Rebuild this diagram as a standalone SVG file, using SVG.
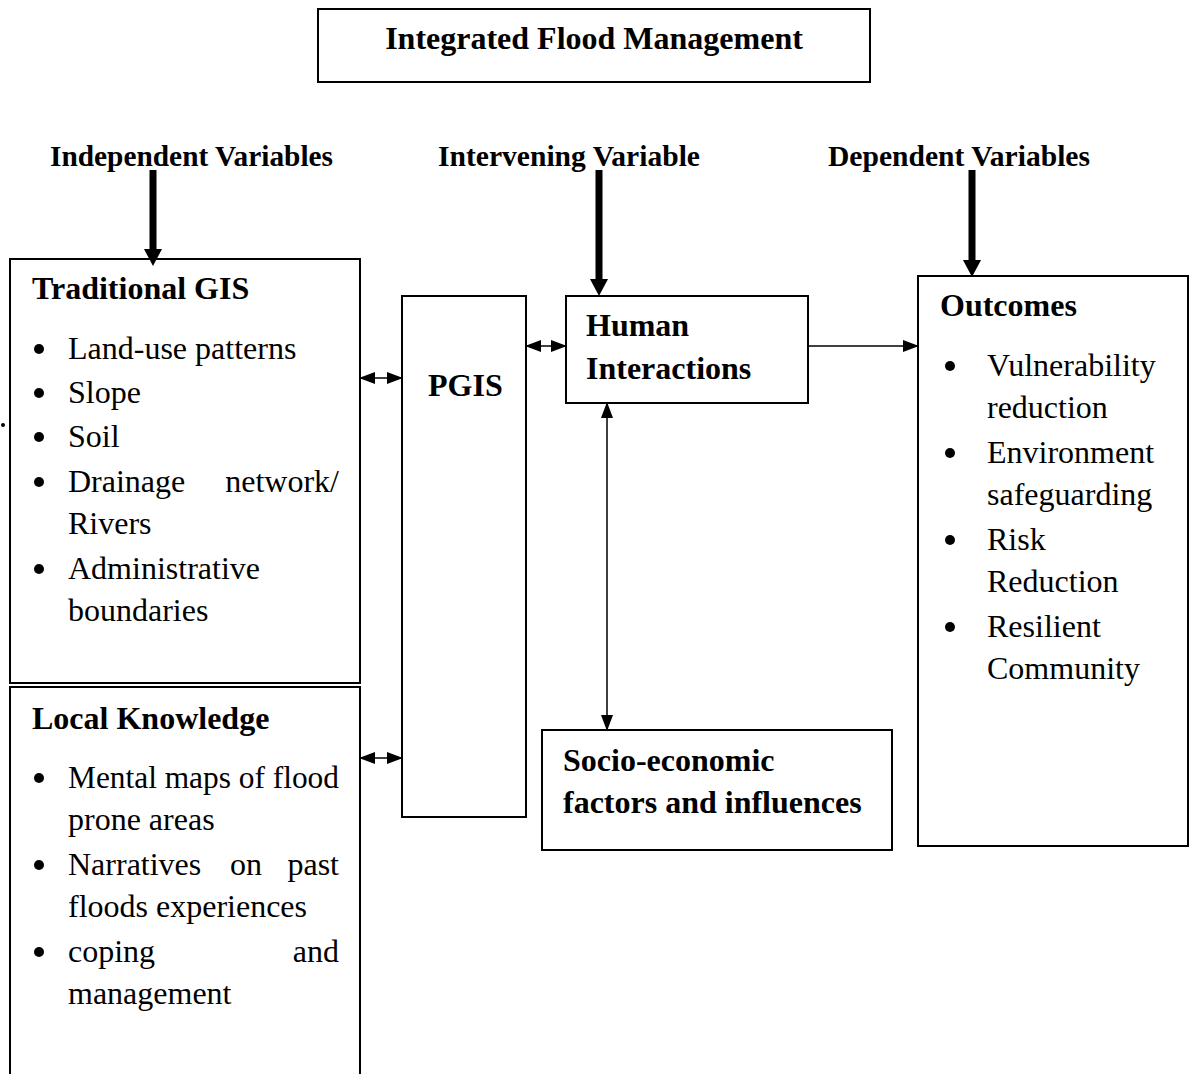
<svg xmlns="http://www.w3.org/2000/svg" width="1189" height="1074" viewBox="0 0 1189 1074">
<style>
.box{fill:#fff;stroke:#000;stroke-width:2}
.t{font-family:"Liberation Serif","Times New Roman",serif;font-size:32px;fill:#000}
.b{font-weight:bold}
.h{font-family:"Liberation Serif","Times New Roman",serif;font-size:30px;font-weight:bold;fill:#000}
.ln{stroke:#000;stroke-width:1.5;fill:none}
.thick{stroke:#000;stroke-width:7;fill:none}
</style>
<defs>
<marker id="ahb" markerWidth="16" markerHeight="12" refX="14" refY="6" orient="auto-start-reverse" markerUnits="userSpaceOnUse">
<path d="M0,0 L16,6 L0,12 Z" fill="#000"/>
</marker>
</defs>
<g id="title">
<rect class="box" x="318" y="9" width="552" height="73"/>
<text class="t b" x="594" y="49" text-anchor="middle">Integrated Flood Management</text>
</g>
<g id="headers">
<text class="h" x="50" y="166" textLength="283" lengthAdjust="spacingAndGlyphs">Independent Variables</text>
<text class="h" x="438" y="166" textLength="262" lengthAdjust="spacingAndGlyphs">Intervening Variable</text>
<text class="h" x="828" y="166" textLength="262" lengthAdjust="spacingAndGlyphs">Dependent Variables</text>
</g>
<g id="traditional-gis">
<rect class="box" x="10" y="259" width="350" height="424"/>
<text class="t b" x="32" y="299">Traditional GIS</text>
<g class="t">
<circle cx="39" cy="349" r="5"/><text x="68" y="359">Land-use patterns</text>
<circle cx="39" cy="393" r="5"/><text x="68" y="403">Slope</text>
<circle cx="39" cy="437" r="5"/><text x="68" y="447">Soil</text>
<circle cx="39" cy="482" r="5"/><text x="68" y="492">Drainage</text><text x="339" y="492" text-anchor="end">network/</text>
<text x="68" y="534">Rivers</text>
<circle cx="39" cy="569" r="5"/><text x="68" y="579">Administrative</text>
<text x="68" y="621">boundaries</text>
</g>
</g>
<g id="local-knowledge">
<rect class="box" x="10" y="687" width="350" height="400"/>
<text class="t b" x="32" y="729">Local Knowledge</text>
<g class="t">
<circle cx="39" cy="778" r="5"/><text x="68" y="788" textLength="271" lengthAdjust="spacingAndGlyphs">Mental maps of flood</text>
<text x="68" y="830">prone areas</text>
<circle cx="39" cy="865" r="5"/><text x="68" y="875">Narratives</text><text x="246" y="875" text-anchor="middle">on</text><text x="339" y="875" text-anchor="end">past</text>
<text x="68" y="917">floods experiences</text>
<circle cx="39" cy="952" r="5"/><text x="68" y="962">coping</text><text x="339" y="962" text-anchor="end">and</text>
<text x="68" y="1004">management</text>
</g>
</g>
<g id="pgis">
<rect class="box" x="402" y="296" width="124" height="521"/>
<text class="t b" x="428" y="396">PGIS</text>
</g>
<g id="human-interactions">
<rect class="box" x="566" y="296" width="242" height="107"/>
<text class="t b" x="586" y="336">Human</text>
<text class="t b" x="586" y="379">Interactions</text>
</g>
<g id="socio-economic">
<rect class="box" x="542" y="730" width="350" height="120"/>
<text class="t b" x="563" y="771">Socio-economic</text>
<text class="t b" x="563" y="813">factors and influences</text>
</g>
<g id="outcomes">
<rect class="box" x="918" y="276" width="270" height="570"/>
<text class="t b" x="940" y="316">Outcomes</text>
<g class="t">
<circle cx="950" cy="366" r="5"/><text x="987" y="376">Vulnerability</text>
<text x="987" y="418">reduction</text>
<circle cx="950" cy="453" r="5"/><text x="987" y="463">Environment</text>
<text x="987" y="505">safeguarding</text>
<circle cx="950" cy="540" r="5"/><text x="987" y="550">Risk</text>
<text x="987" y="592">Reduction</text>
<circle cx="950" cy="627" r="5"/><text x="987" y="637">Resilient</text>
<text x="987" y="679">Community</text>
</g>
</g>
<circle cx="3" cy="425" r="2" fill="#000"/>
<g id="connectors">
<line class="thick" x1="153" y1="170" x2="153" y2="250"/>
<path d="M144,249 L162,249 L153,266 Z" fill="#000"/>
<line class="thick" x1="599" y1="170" x2="599" y2="280"/>
<path d="M590,279 L608,279 L599,296 Z" fill="#000"/>
<line class="thick" x1="972" y1="170" x2="972" y2="261"/>
<path d="M963,260 L981,260 L972,277 Z" fill="#000"/>
<line class="ln" x1="361" y1="378" x2="401" y2="378" marker-start="url(#ahb)" marker-end="url(#ahb)"/>
<line class="ln" x1="527" y1="346" x2="565" y2="346" marker-start="url(#ahb)" marker-end="url(#ahb)"/>
<line class="ln" x1="361" y1="758" x2="401" y2="758" marker-start="url(#ahb)" marker-end="url(#ahb)"/>
<line class="ln" x1="808" y1="346" x2="917" y2="346" marker-end="url(#ahb)"/>
<line class="ln" x1="607" y1="404" x2="607" y2="729" marker-start="url(#ahb)" marker-end="url(#ahb)"/>
</g>
</svg>
